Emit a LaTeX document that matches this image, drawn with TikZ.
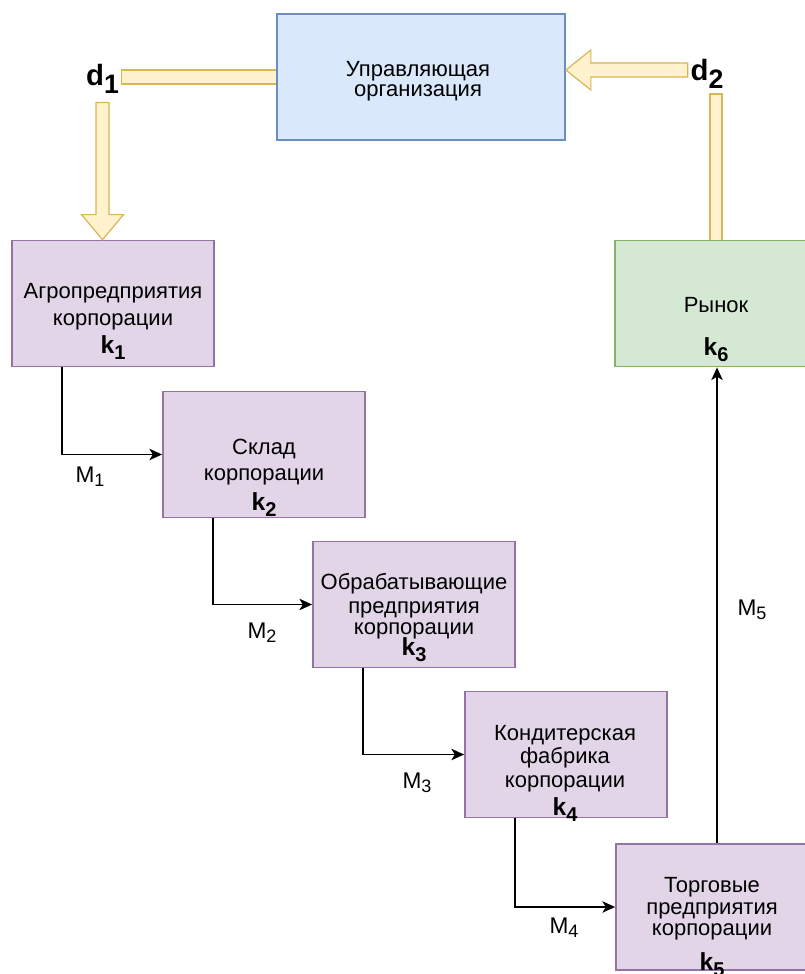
\documentclass[tikz,border=0pt]{standalone}
\usepackage{fontspec}
\setmainfont{Liberation Sans}
\usetikzlibrary{arrows.meta,calc}
\definecolor{ctrlfill}{HTML}{DAE8FC}
\definecolor{ctrlline}{HTML}{6C8EBF}
\definecolor{stgfill}{HTML}{E1D5E7}
\definecolor{stgline}{HTML}{9673A6}
\definecolor{mktfill}{HTML}{D5E8D4}
\definecolor{mktline}{HTML}{82B366}
\definecolor{flxfill}{HTML}{FFF2CC}
\definecolor{flxline}{HTML}{D6B656}
\setlength{\lineskiplimit}{-100pt}
\newcommand{\kidx}[1]{{\bfseries\fontsize{18.5}{20}\selectfont k\raisebox{-4.5pt}{\fontsize{15}{15}\selectfont #1}}}
\newcommand{\didx}[1]{{\bfseries\fontsize{22}{24}\selectfont d\raisebox{-6pt}{\fontsize{20}{20}\selectfont #1}}}
\newcommand{\midx}[1]{{\fontsize{17}{18}\selectfont M\raisebox{-3pt}{\fontsize{13.5}{14}\selectfont #1}}}
\tikzset{
  stage/.style={draw=stgline,fill=stgfill,line width=1.3pt,minimum width=151.5pt,minimum height=94.5pt},
  ctrlbox/.style={stage,draw=ctrlline,fill=ctrlfill,minimum width=216pt},
  mktbox/.style={stage,draw=mktline,fill=mktfill},
  txt/.style={font=\fontsize{16.5}{15}\selectfont,align=center,inner sep=0pt,anchor=base},
  flow/.style={line width=1.4pt,-{Stealth[length=9.5pt,width=8.5pt,inset=2.5pt]}},
  flex/.style={draw=flxline,fill=flxfill,line width=0.9pt,line join=miter},
  mlbl/.style={inner sep=1pt},
}
\begin{document}
\begin{tikzpicture}[x=0.75pt,y=-0.75pt]
  \fill[white] (0,0) rectangle (805,974);
  \useasboundingbox (0,0) rectangle (805,974);
  % boxes
  \node[ctrlbox] (ctrl) at (421,77) {};
  \node[stage] (agro) at (113,303.5) {};
  \node[stage] (sklad) at (264,454.5) {};
  \node[stage] (obr) at (414,604.5) {};
  \node[stage] (kond) at (566,754.5) {};
  \node[stage] (torg) at (717,907) {};
  \node[mktbox] (rynok) at (716,303.5) {};
  % box texts (anchored on the last baseline)
  \node[txt] (ctrl-t) at (418,97) {Управляющая\\[0.75pt]организация};
  \node[txt] (agro-t) at (113,353) {Агропредприятия\\[5.25pt]корпорации\\[6pt]\kidx{1}};
  \node[txt] (sklad-t) at (264,510) {Склад\\[4.5pt]корпорации\\[7.5pt]\kidx{2}};
  \node[txt] (obr-t) at (414,655) {Обрабатывающие\\[3pt]предприятия\\[0.75pt]корпорации\\[0.75pt]\kidx{3}};
  \node[txt] (kond-t) at (565,815) {Кондитерская\\[2.25pt]фабрика\\[3pt]корпорации\\[6pt]\kidx{4}};
  \node[txt] (torg-t) at (712,970) {Торговые\\[1.5pt]предприятия\\[0.75pt]корпорации\\[11.25pt]\kidx{5}};
  \node[txt] (rynok-t) at (716,355) {Рынок\\[17.25pt]\kidx{6}};
  % material flows
  \draw[flow] ($(agro.south west)!0.25!(agro.south east)$) |- (sklad.west);
  \draw[flow] ($(sklad.south west)!0.25!(sklad.south east)$) |- (obr.west);
  \draw[flow] ($(obr.south west)!0.25!(obr.south east)$) |- (kond.west);
  \draw[flow] ($(kond.south west)!0.25!(kond.south east)$) |- (torg.west);
  \draw[flow] (torg.north) -- (torg.north |- rynok.south);
  \node[mlbl] (m1) at (90,477) {\midx{1}};
  \node[mlbl] (m2) at (262,633) {\midx{2}};
  \node[mlbl] (m3) at (417,783) {\midx{3}};
  \node[mlbl] (m4) at (564,928) {\midx{4}};
  \node[mlbl] (m5) at (752,610) {\midx{5}};
  % control signals
  \node[inner sep=2pt] (d1) at (102.5,79) {\didx{1}};
  \node[inner sep=2pt] (d2) at (707,73.5) {\didx{2}};
  \filldraw[flex] ($(ctrl.west)+(0,-7)$) -- ($(ctrl.west -| d1.east)+(0,-7)$)
    -- ++(0,14) -- ($(ctrl.west)+(0,7)$);
  \coordinate (dtip) at (d1.south |- agro.north);
  \filldraw[flex] ($(d1.south)+(-6.5,6)$) -- ($(dtip)+(-6.5,-25)$) -- ($(dtip)+(-21,-25)$)
    -- (dtip) -- ($(dtip)+(21,-25)$) -- ($(dtip)+(6.5,-25)$) -- ($(d1.south)+(6.5,6)$) -- cycle;
  \filldraw[flex] ($(rynok.north)+(-6,0)$) -- ($(rynok.north |- d2.south)+(-6,3)$)
    -- ++(12,0) -- ($(rynok.north)+(6,0)$);
  \coordinate (ptip) at ($(ctrl.east)+(0,-7)$);
  \filldraw[flex] ($(d2.west |- ptip)+(0,-7)$) -- ($(ptip)+(25,-7)$) -- ($(ptip)+(25,-20)$)
    -- (ptip) -- ($(ptip)+(25,20)$) -- ($(ptip)+(25,7)$) -- ($(d2.west |- ptip)+(0,7)$) -- cycle;
\end{tikzpicture}
\end{document}
